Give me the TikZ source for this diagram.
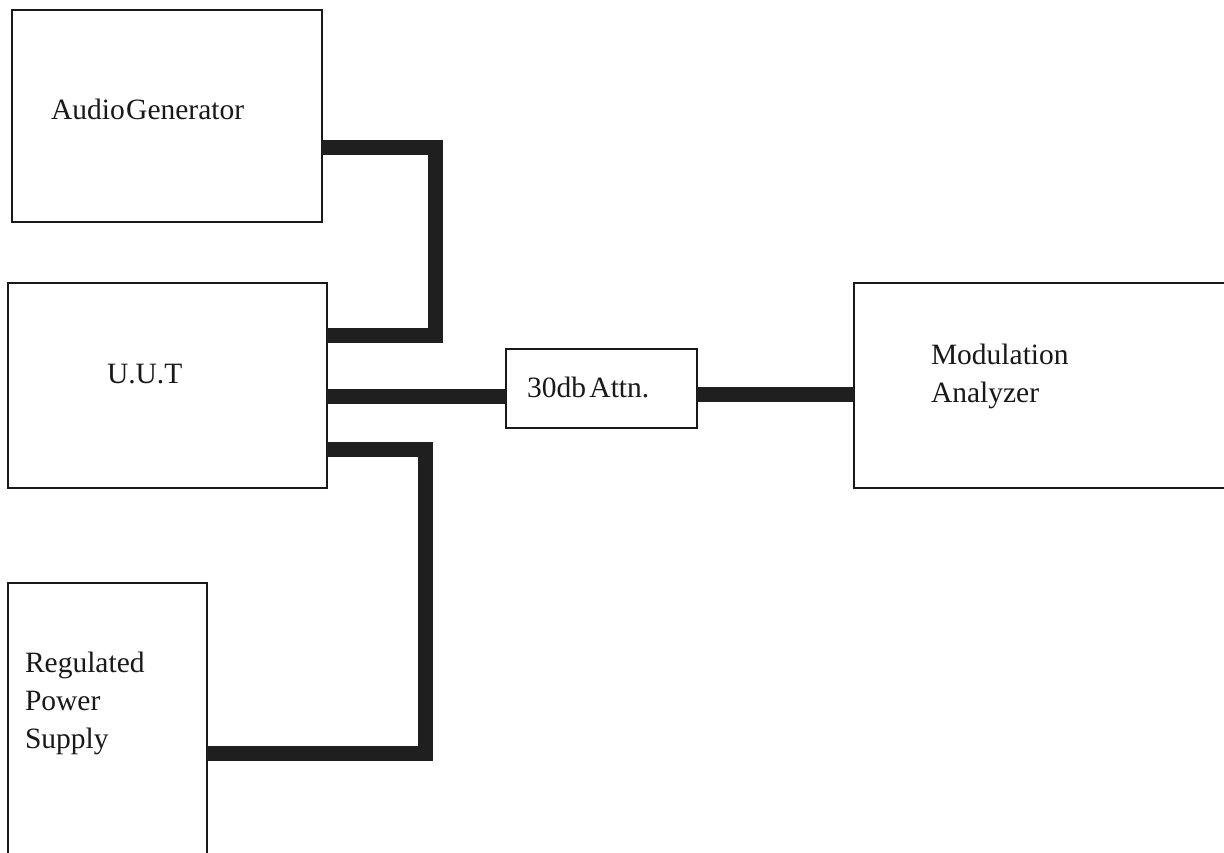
\documentclass[tikz,border=0pt]{standalone}
\usepackage{fontspec}
\setmainfont{Liberation Serif}
\newcommand\lblfont{\fontsize{29.5}{38}\selectfont\spaceskip=3.5pt plus 1pt\relax}
\begin{document}
\begin{tikzpicture}[x=1pt,y=-1pt,
  box/.style={draw=black!90, line width=1.6pt, inner sep=0pt, outer sep=0pt, anchor=north west},
  wire/.style={draw=black!88, line width=15pt, line cap=butt, line join=miter},
  lbl/.style={inner sep=0pt, outer sep=0pt, anchor=base west, font=\lblfont, text=black!90, align=left}]
\useasboundingbox (0,0) rectangle (1224,852);
\clip (0,0) rectangle (1224,852);
\fill[white] (0,0) rectangle (1224,852);
% boxes
\node[box, minimum width=310pt, minimum height=212pt] (ag) at (12,10) {};
\node[box, minimum width=319pt, minimum height=205pt] (uut) at (8,283) {};
\node[box, minimum width=191pt, minimum height=79pt] (attn) at (506,349) {};
\node[box, minimum width=400pt, minimum height=205pt] (ma) at (854,283) {};
\node[box, minimum width=199pt, minimum height=300pt] (rps) at (8,583) {};
% labels
\node[lbl] (agt) at (51,119) {Audio\hspace{1.5pt}Generator};
\node[lbl] (uutt) at (107,383) {U.U.T};
\node[lbl] (attnt) at (527,397) {30db Attn.};
\node[lbl] (mat) at (931,402) {Modulation\\Analyzer};
\node[lbl] (rpst) at (25,748) {Regulated\\Power\\Supply};
% connectors
\coordinate (c1) at (435.5,147.5);
\coordinate (c2) at (435.5,335.5);
\coordinate (c3) at (425.5,449.5);
\coordinate (c4) at (425.5,753);
\draw[wire] (ag.east |- c1) -- (c1) -- (c2) -- (uut.east |- c2);
\draw[wire] (uut.east |- 0,396.5) -- (attn.west |- 0,396.5);
\draw[wire] (attn.east |- 0,394.5) -- (ma.west |- 0,394.5);
\draw[wire] (uut.east |- c3) -- (c3) -- (c4) -- (rps.east |- c4);
\end{tikzpicture}
\end{document}
